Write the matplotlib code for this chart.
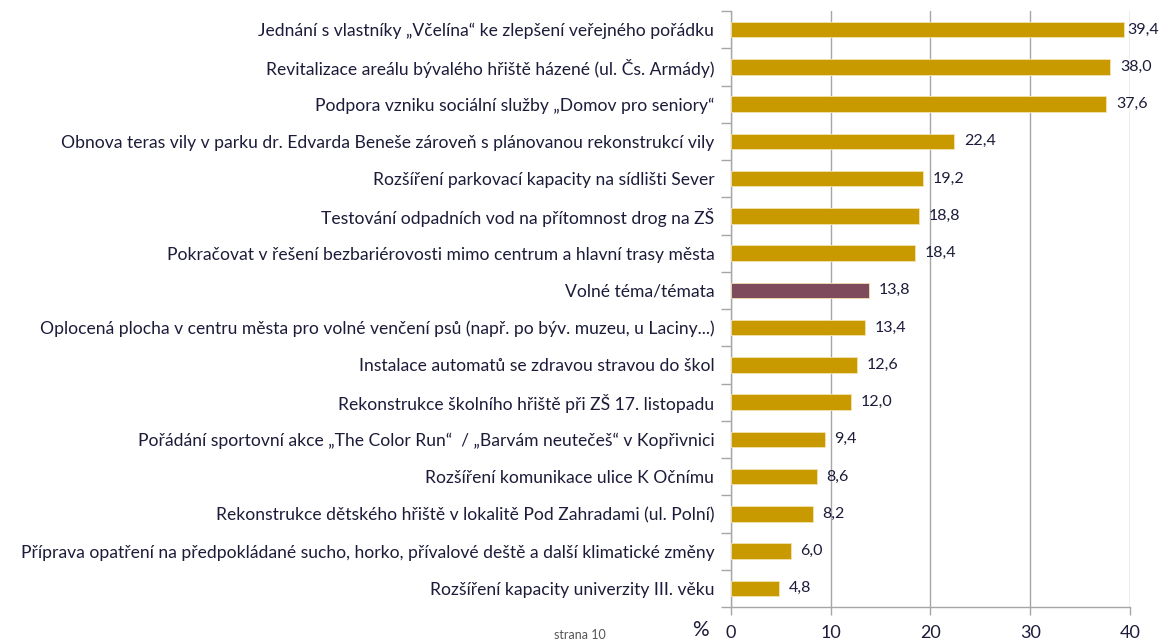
import matplotlib
matplotlib.use("Agg")
import matplotlib.pyplot as plt
import numpy as np

categories = [
    "Jednání s vlastníky „Včelína“ ke zlepšení veřejného pořádku",
    "Revitalizace areálu bývalého hřiště házené (ul. Čs. Armády)",
    "Podpora vzniku sociální služby „Domov pro seniory“",
    "Obnova teras vily v parku dr. Edvarda Beneše zároveň s plánovanou rekonstrukcí vily",
    "Rozšíření parkovací kapacity na sídlišti Sever",
    "Testování odpadních vod na přítomnost drog na ZŠ",
    "Pokračovat v řešení bezbariérovosti mimo centrum a hlavní trasy města",
    "Volné téma/témata",
    "Oplocená plocha v centru města pro volné venčení psů (např. po býv. muzeu, u Laciny...)",
    "Instalace automatů se zdravou stravou do škol",
    "Rekonstrukce školního hřiště při ZŠ 17. listopadu",
    "Pořádání sportovní akce „The Color Run“  / „Barvám neutečeš“ v Kopřivnici",
    "Rozšíření komunikace ulice K Očnímu",
    "Rekonstrukce dětského hřiště v lokalitě Pod Zahradami (ul. Polní)",
    "Příprava opatření na předpokládané sucho, horko, přívalové deště a další klimatické změny",
    "Rozšíření kapacity univerzity III. věku",
]
values = [39.4, 38.0, 37.6, 22.4, 19.2, 18.8, 18.4, 13.8, 13.4, 12.6, 12.0, 9.4, 8.6, 8.2, 6.0, 4.8]
highlight = "Volné téma/témata"
xticks = [0, 10, 20, 30, 40]

gold = "#C99A00"
purple = "#7D4B5B"
txt = "#1C1C3A"
grid = "#A6A6A6"

plt.rcParams['font.family'] = ['Lato', 'DejaVu Sans']

fig = plt.figure(figsize=(11.6, 6.43), dpi=100)
ax = fig.add_axes([731/1160, 1-607/643, (1130-731)/1160, (607-11)/643])

y = np.arange(len(categories))
colors = [purple if c == highlight else gold for c in categories]
ax.barh(y, values, height=0.42, color=colors, edgecolor="#F2E2B0", linewidth=0.6, zorder=3)
ax.set_ylim(len(categories) - 0.5, -0.5)
ax.set_xlim(0, 40)

for yi, v in zip(y, values):
    off = 2 if v > 39 else 7
    ax.annotate(f"{v:.1f}".replace(".", ","), (v, yi), xytext=(off, 0), textcoords="offset points",
                ha="left", va="center", fontsize=11.5, color=txt, zorder=4, annotation_clip=False)

ax.set_yticks(y)
ax.set_yticklabels(categories, fontsize=12.6, color=txt)
ax.tick_params(axis='y', which='major', length=0, pad=12)
ax.set_yticks(np.arange(-0.5, len(categories), 1), minor=True)
ax.tick_params(axis='y', which='minor', length=7, color=grid, width=1)

ax.set_xticks(xticks)
ax.set_xticklabels([str(t) for t in xticks], fontsize=13, color=txt)
ax.tick_params(axis='x', length=6, color=grid, width=1, pad=7)

ax.grid(axis='x', color=grid, linewidth=1, zorder=0)
for s in ["top", "right"]:
    ax.spines[s].set_visible(False)
for s in ["left", "bottom"]:
    ax.spines[s].set_color(grid)
    ax.spines[s].set_linewidth(1)

fig.text(700/1160, 1-630/643, "%", fontsize=15, color=txt, ha="center", va="center")
fig.text(580/1160, 1-635/643, "strana 10", fontsize=9, color="#555555", ha="center", va="center")

fig.savefig("out.png", dpi=100)
